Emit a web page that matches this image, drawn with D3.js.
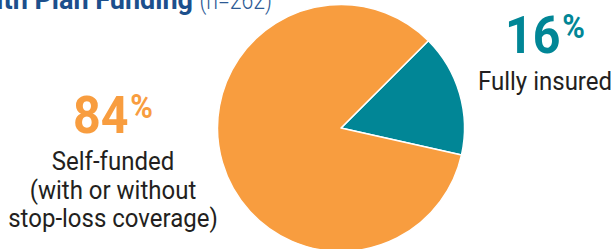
<!DOCTYPE html>
<html>
<head>
<meta charset="utf-8">
<script src="https://cdn.jsdelivr.net/npm/d3@7"></script>
<style>
  html, body { margin: 0; padding: 0; background: #fff; }
  svg { display: block; }
  text { font-family: Roboto, "DejaVu Sans Condensed", sans-serif; }
</style>
</head>
<body>
<svg id="chart" width="613" height="249"></svg>
<script>
// chart data
const categories = ["Fully insured", "Self-funded"];
const shares = [16, 84];
const colors = ["#018696", "#F89D3F"];
const labelLines = [
  ["Fully insured"],
  ["Self-funded", "(with or without", "stop-loss coverage)"]
];
const titleMain = "Health Plan Funding";
const titleNote = "(n=262)";

const width = 613, height = 249;
const svg = d3.select("#chart");

// title, cut off at the top edge like the original crop
svg.append("text")
  .attr("transform", "translate(193,9) scale(1,1)")
  .attr("text-anchor", "end")
  .attr("font-size", 27)
  .attr("font-weight", "bold")
  .attr("fill", "#1C4F8C")
  .text(titleMain);
svg.append("text")
  .attr("transform", "translate(272,9) scale(0.85,1)")
  .attr("text-anchor", "end")
  .attr("font-size", 25)
  .attr("font-weight", "300")
  .attr("fill", "#2D5A94")
  .text(titleNote);

// pie
const radius = 123.5;
const cx = 341, cy = 128;

const pie = d3.pie()
  .sort(null)
  .startAngle(Math.PI / 4)
  .endAngle(Math.PI / 4 + 2 * Math.PI);

const arc = d3.arc().innerRadius(0).outerRadius(radius);

const pieGroup = svg.append("g").attr("transform", `translate(${cx},${cy})`);

pieGroup.selectAll("path")
  .data(pie(shares))
  .join("path")
  .attr("d", arc)
  .attr("fill", (d, i) => colors[i])
  .attr("stroke", "#fff")
  .attr("stroke-width", 1.5)
  .attr("stroke-linejoin", "round");

// labels: big percentage plus category text
const labelPos = [
  { x: 545, y: 53, lineY: 90 },
  { x: 113, y: 133, lineY: 170 }
];

shares.forEach((v, i) => {
  const p = labelPos[i];
  const pct = svg.append("text")
    .attr("transform", `translate(${p.x},${p.y}) scale(0.93,1)`)
    .attr("text-anchor", "middle")
    .attr("font-weight", "bold")
    .attr("fill", colors[i]);
  pct.append("tspan").attr("font-size", 52).text(v);
  pct.append("tspan").attr("font-size", 33).attr("dx", 2).attr("dy", -15).text("%");

  svg.append("g")
    .selectAll("text")
    .data(labelLines[i])
    .join("text")
    .attr("transform", (d, j) => `translate(${p.x},${p.lineY + j * 28.5}) scale(0.96,1)`)
    .attr("text-anchor", "middle")
    .attr("font-size", 25)
    .attr("fill", "#231F20")
    .text(d => d);
});
</script>
</body>
</html>
